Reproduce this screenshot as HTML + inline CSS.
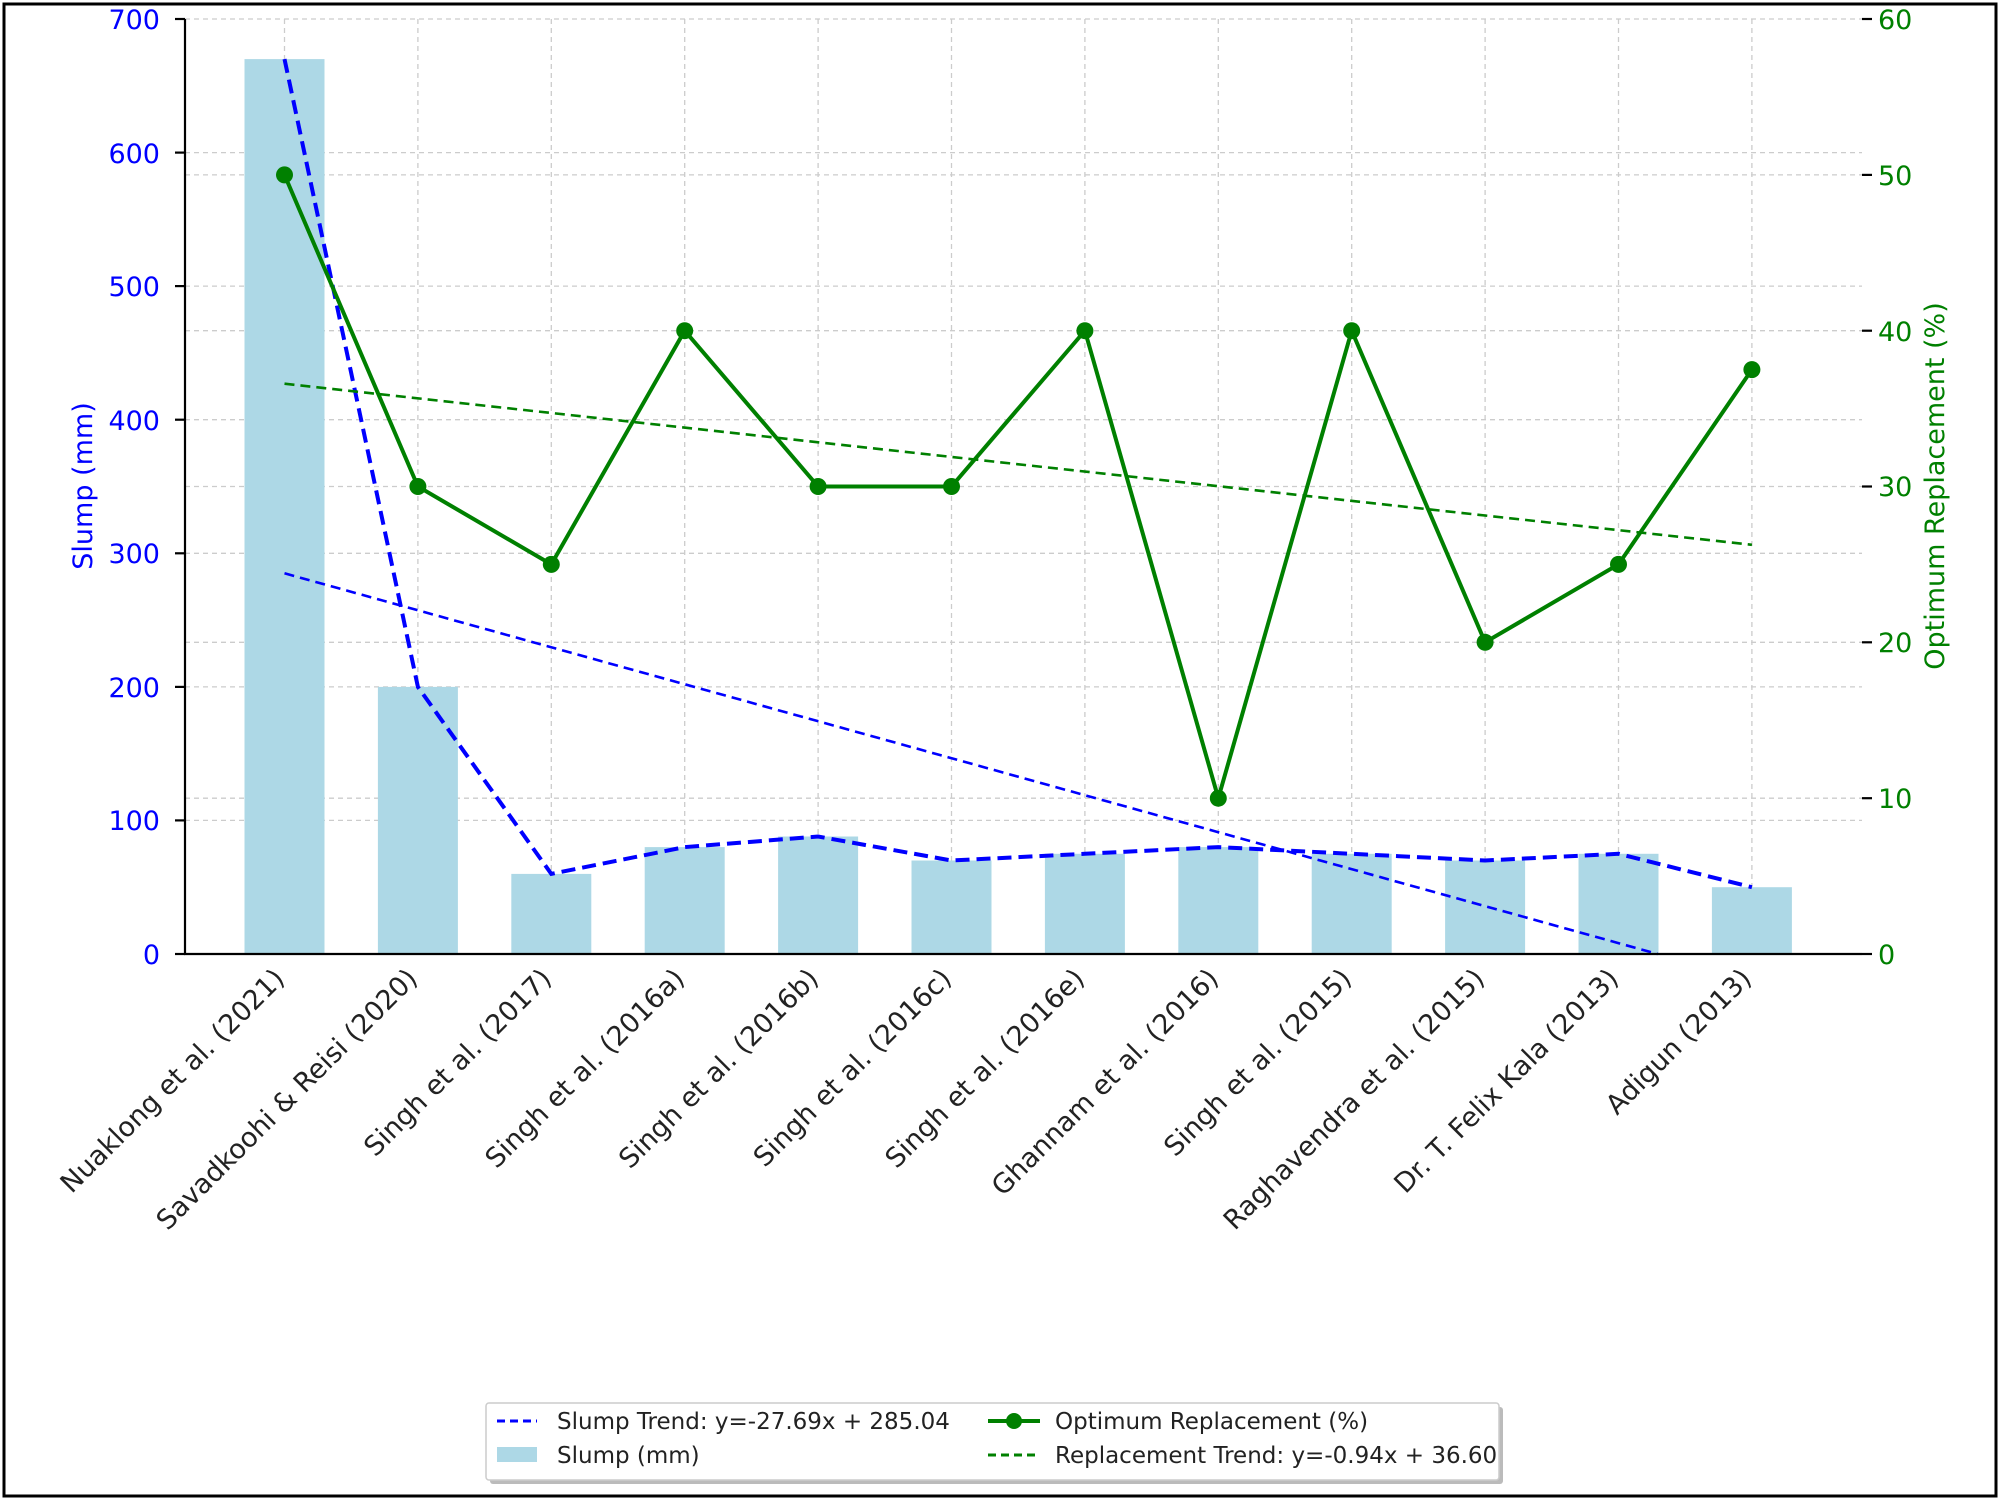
<!DOCTYPE html>
<html><head><meta charset="utf-8"><style>html,body{margin:0;padding:0;background:#fff}</style></head>
<body>
<svg width="2000" height="1500" xmlns="http://www.w3.org/2000/svg" font-family="'DejaVu Sans','Liberation Sans',sans-serif">
<rect x="0" y="0" width="2000" height="1500" fill="#fff"/>
<rect x="4" y="4" width="1992" height="1492" fill="none" stroke="#000" stroke-width="3"/>
<g stroke="#ccc" stroke-width="1.3" stroke-dasharray="5,4">
<line x1="185" x2="1862" y1="820.4" y2="820.4"/><line x1="185" x2="1862" y1="686.9" y2="686.9"/><line x1="185" x2="1862" y1="553.3" y2="553.3"/><line x1="185" x2="1862" y1="419.7" y2="419.7"/><line x1="185" x2="1862" y1="286.1" y2="286.1"/><line x1="185" x2="1862" y1="152.6" y2="152.6"/><line x1="185" x2="1862" y1="19" y2="19"/>
<line x1="185" x2="1862" y1="798.2" y2="798.2"/><line x1="185" x2="1862" y1="642.3" y2="642.3"/><line x1="185" x2="1862" y1="486.5" y2="486.5"/><line x1="185" x2="1862" y1="330.7" y2="330.7"/><line x1="185" x2="1862" y1="174.9" y2="174.9"/>
<line x1="284.5" x2="284.5" y1="19" y2="954"/><line x1="417.9" x2="417.9" y1="19" y2="954"/><line x1="551.3" x2="551.3" y1="19" y2="954"/><line x1="684.7" x2="684.7" y1="19" y2="954"/><line x1="818.1" x2="818.1" y1="19" y2="954"/><line x1="951.5" x2="951.5" y1="19" y2="954"/><line x1="1084.9" x2="1084.9" y1="19" y2="954"/><line x1="1218.3" x2="1218.3" y1="19" y2="954"/><line x1="1351.7" x2="1351.7" y1="19" y2="954"/><line x1="1485.1" x2="1485.1" y1="19" y2="954"/><line x1="1618.5" x2="1618.5" y1="19" y2="954"/><line x1="1751.9" x2="1751.9" y1="19" y2="954"/>
</g>
<g fill="#add8e6">
<rect x="244.5" y="59.1" width="80" height="894.9"/><rect x="377.9" y="686.9" width="80" height="267.1"/><rect x="511.3" y="873.9" width="80" height="80.1"/><rect x="644.7" y="847.1" width="80" height="106.9"/><rect x="778.1" y="836.5" width="80" height="117.5"/><rect x="911.5" y="860.5" width="80" height="93.5"/><rect x="1044.9" y="853.8" width="80" height="100.2"/><rect x="1178.3" y="847.1" width="80" height="106.9"/><rect x="1311.7" y="853.8" width="80" height="100.2"/><rect x="1445.1" y="860.5" width="80" height="93.5"/><rect x="1578.5" y="853.8" width="80" height="100.2"/><rect x="1711.9" y="887.2" width="80" height="66.8"/>
</g>
<g fill="none" stroke="#0000ff" stroke-dasharray="14,7">
<polyline stroke-width="4" points="284.5,59.1 417.9,686.9 551.3,873.9 684.7,847.1 818.1,836.5 951.5,860.5 1084.9,853.8 1218.3,847.1 1351.7,853.8 1485.1,860.5 1618.5,853.8 1751.9,887.2"/>
<line stroke-width="2.6" stroke-dasharray="10,6" x1="284.5" y1="573.3" x2="1657.7" y2="954"/>
</g>
<line stroke="#008000" stroke-width="2.6" stroke-dasharray="10,6" x1="284.5" y1="383.7" x2="1751.9" y2="544.8"/>
<polyline fill="none" stroke="#008000" stroke-width="4" points="284.5,174.9 417.9,486.5 551.3,564.4 684.7,330.7 818.1,486.5 951.5,486.5 1084.9,330.7 1218.3,798.2 1351.7,330.7 1485.1,642.3 1618.5,564.4 1751.9,369.6"/>
<g fill="#008000">
<circle cx="284.5" cy="174.9" r="8.5"/><circle cx="417.9" cy="486.5" r="8.5"/><circle cx="551.3" cy="564.4" r="8.5"/><circle cx="684.7" cy="330.7" r="8.5"/><circle cx="818.1" cy="486.5" r="8.5"/><circle cx="951.5" cy="486.5" r="8.5"/><circle cx="1084.9" cy="330.7" r="8.5"/><circle cx="1218.3" cy="798.2" r="8.5"/><circle cx="1351.7" cy="330.7" r="8.5"/><circle cx="1485.1" cy="642.3" r="8.5"/><circle cx="1618.5" cy="564.4" r="8.5"/><circle cx="1751.9" cy="369.6" r="8.5"/>
</g>
<g stroke="#000" stroke-width="2.2">
<line x1="185" y1="19" x2="185" y2="955"/><line x1="184" y1="954" x2="1862" y2="954"/>
<line x1="175" x2="185" y1="954" y2="954"/><line x1="175" x2="185" y1="820.4" y2="820.4"/><line x1="175" x2="185" y1="686.9" y2="686.9"/><line x1="175" x2="185" y1="553.3" y2="553.3"/><line x1="175" x2="185" y1="419.7" y2="419.7"/><line x1="175" x2="185" y1="286.1" y2="286.1"/><line x1="175" x2="185" y1="152.6" y2="152.6"/><line x1="175" x2="185" y1="19" y2="19"/>
<line x1="1862" x2="1872" y1="954" y2="954"/><line x1="1862" x2="1872" y1="798.2" y2="798.2"/><line x1="1862" x2="1872" y1="642.3" y2="642.3"/><line x1="1862" x2="1872" y1="486.5" y2="486.5"/><line x1="1862" x2="1872" y1="330.7" y2="330.7"/><line x1="1862" x2="1872" y1="174.9" y2="174.9"/><line x1="1862" x2="1872" y1="19" y2="19"/>
</g>
<g font-size="27" fill="#0000ff" text-anchor="end">
<text x="160" y="964">0</text><text x="160" y="830">100</text><text x="160" y="697">200</text><text x="160" y="563">300</text><text x="160" y="430">400</text><text x="160" y="296">500</text><text x="160" y="163">600</text><text x="160" y="29">700</text>
</g>
<g font-size="27" fill="#008000">
<text x="1878" y="964">0</text><text x="1878" y="808">10</text><text x="1878" y="652">20</text><text x="1878" y="496">30</text><text x="1878" y="341">40</text><text x="1878" y="185">50</text><text x="1878" y="29">60</text>
</g>
<text transform="translate(92,486) rotate(-90)" font-size="27" fill="#0000ff" text-anchor="middle">Slump (mm)</text>
<text transform="translate(1944,486) rotate(-90)" font-size="27" fill="#008000" text-anchor="middle">Optimum Replacement (%)</text>
<g font-size="27" fill="#222" text-anchor="end">
<text transform="translate(286,980) rotate(-45)">Nuaklong et al. (2021)</text>
<text transform="translate(419,980) rotate(-45)">Savadkoohi &amp; Reisi (2020)</text>
<text transform="translate(553,980) rotate(-45)">Singh et al. (2017)</text>
<text transform="translate(686,980) rotate(-45)">Singh et al. (2016a)</text>
<text transform="translate(820,980) rotate(-45)">Singh et al. (2016b)</text>
<text transform="translate(953,980) rotate(-45)">Singh et al. (2016c)</text>
<text transform="translate(1086,980) rotate(-45)">Singh et al. (2016e)</text>
<text transform="translate(1220,980) rotate(-45)">Ghannam et al. (2016)</text>
<text transform="translate(1353,980) rotate(-45)">Singh et al. (2015)</text>
<text transform="translate(1486,980) rotate(-45)">Raghavendra et al. (2015)</text>
<text transform="translate(1620,980) rotate(-45)">Dr. T. Felix Kala (2013)</text>
<text transform="translate(1753,980) rotate(-45)">Adigun (2013)</text>
</g>
<rect x="490" y="1407" width="1013" height="77" fill="#bbb" rx="3"/>
<rect x="486" y="1403" width="1013" height="77" fill="#fff" stroke="#ccc" stroke-width="1.5" rx="3"/>
<line x1="497" y1="1421" x2="537" y2="1421" stroke="#0000ff" stroke-width="3" stroke-dasharray="8,5"/>
<rect x="497" y="1447" width="40" height="15" fill="#add8e6"/>
<line x1="988" y1="1421" x2="1040" y2="1421" stroke="#008000" stroke-width="4"/><circle cx="1014" cy="1421" r="8" fill="#008000"/>
<line x1="988" y1="1455" x2="1040" y2="1455" stroke="#008000" stroke-width="3" stroke-dasharray="8,5"/>
<g font-size="23" fill="#222">
<text x="557" y="1429">Slump Trend: y=-27.69x + 285.04</text>
<text x="557" y="1463">Slump (mm)</text>
<text x="1055" y="1429">Optimum Replacement (%)</text>
<text x="1055" y="1463">Replacement Trend: y=-0.94x + 36.60</text>
</g>
</svg>
</body></html>
